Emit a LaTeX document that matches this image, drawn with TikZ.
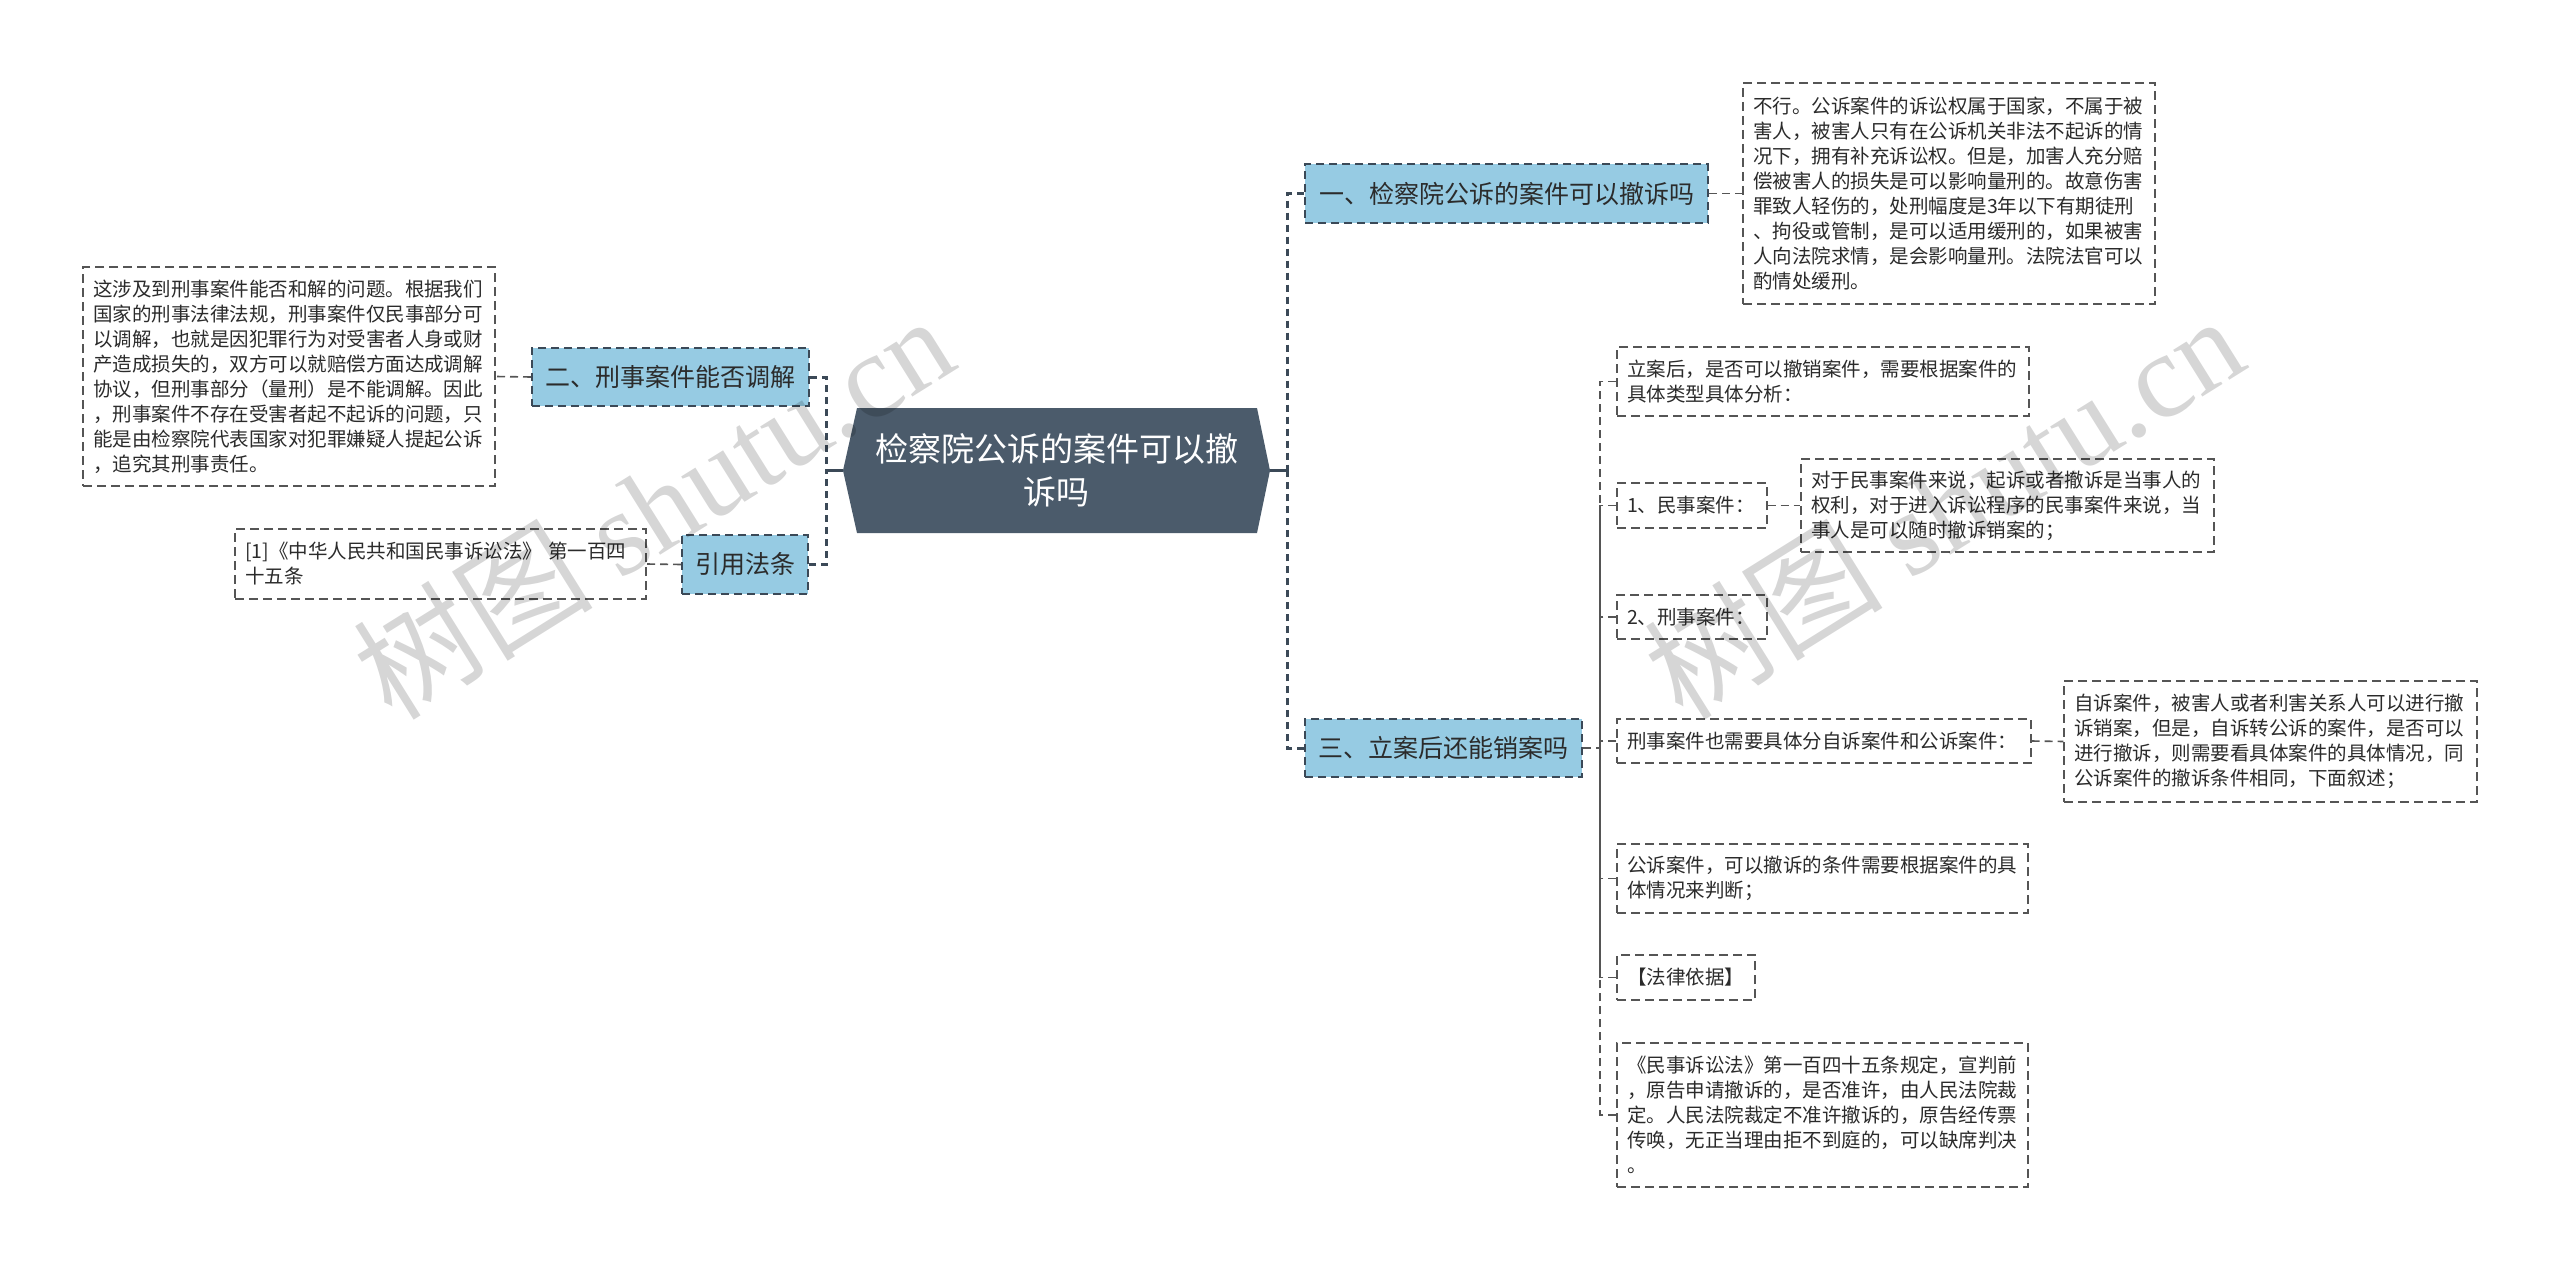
\documentclass[tikz,border=0pt]{standalone}
\usepackage{fontspec}
\setmainfont{Noto Sans CJK SC}
\newfontfamily\wmserif{Liberation Serif}
\definecolor{hubfill}{HTML}{4B5B6B}
\definecolor{topicfill}{HTML}{96CBE3}
\definecolor{topicline}{HTML}{3B4957}
\definecolor{leafline}{HTML}{555555}
\definecolor{txt}{HTML}{2B2B2B}
\begin{document}
\begin{tikzpicture}[x=1pt,y=-1pt,
  topic/.style={draw=topicline, line width=2pt, dash pattern=on 8pt off 5pt, fill=topicfill,
    font=\fontsize{25}{30}\selectfont, text=txt, inner sep=0pt, minimum height=58pt},
  leaf/.style={draw=leafline, line width=1.4pt, dash pattern=on 9pt off 5pt, fill=white,
    font=\fontsize{19.5}{25}\selectfont, text=txt, align=left, inner xsep=10pt, inner ysep=0pt},
  trunk/.style={draw=topicline, line width=3pt, dash pattern=on 7pt off 5pt},
  twig/.style={draw=leafline, line width=1.6pt, dash pattern=on 8pt off 5pt},
  wmark/.style={text=black, opacity=0.16, font=\fontsize{120}{120}\selectfont, rotate=32},
]
\useasboundingbox (0,0) rectangle (2560,1271);
\fill[white] (0,0) rectangle (2560,1271);

% central topic
\fill[hubfill] (843,470.5) -- (857,408) -- (1257,408) -- (1270,470.5) -- (1257,533) -- (857,533) -- cycle;
\node[minimum width=427pt, minimum height=125pt, inner sep=0pt, text=white, align=center,
  font=\fontsize{33}{43}\selectfont] (c) at (1056.5,470.5) {检察院公诉的案件可以撤\\诉吗};

% main topics
\node[topic, minimum width=403pt] (b1) at (1506.5,193.5) {一、检察院公诉的案件可以撤诉吗};
\node[topic, minimum width=277pt] (b2) at (670.5,377) {二、刑事案件能否调解};
\node[topic, minimum width=277pt] (b3) at (1443.5,748) {三、立案后还能销案吗};
\node[topic, minimum width=126pt, minimum height=59pt] (b4) at (745,564.5) {引用法条};

% leaves of main topics
\node[leaf, text width=392pt, minimum height=221pt] (l1) at (1949,193.5) {不行。公诉案件的诉讼权属于国家，不属于被\\害人，被害人只有在公诉机关非法不起诉的情\\况下，拥有补充诉讼权。但是，加害人充分赔\\偿被害人的损失是可以影响量刑的。故意伤害\\罪致人轻伤的，处刑幅度是3年以下有期徒刑\\、拘役或管制，是可以适用缓刑的，如果被害\\人向法院求情，是会影响量刑。法院法官可以\\酌情处缓刑。};
\node[leaf, text width=392pt, minimum height=219pt] (l2) at (289,376.5) {这涉及到刑事案件能否和解的问题。根据我们\\国家的刑事法律法规，刑事案件仅民事部分可\\以调解，也就是因犯罪行为对受害者人身或财\\产造成损失的，双方可以就赔偿方面达成调解\\协议，但刑事部分（量刑）是不能调解。因此\\，刑事案件不存在受害者起不起诉的问题，只\\能是由检察院代表国家对犯罪嫌疑人提起公诉\\，追究其刑事责任。};
\node[leaf, text width=391pt, minimum height=70pt] (l4) at (440.5,564) {[1]《中华人民共和国民事诉讼法》 第一百四\\十五条};

% details of topic 3
\node[leaf, text width=392pt, minimum height=69pt] (d1) at (1823,381.5) {立案后，是否可以撤销案件，需要根据案件的\\具体类型具体分析：};
\node[leaf, text width=130pt, minimum height=45pt] (d2) at (1692,505.5) {1、民事案件：};
\node[leaf, text width=393pt, minimum height=93pt] (e1) at (2007.5,505.5) {对于民事案件来说，起诉或者撤诉是当事人的\\权利，对于进入诉讼程序的民事案件来说，当\\事人是可以随时撤诉销案的；};
\node[leaf, text width=130pt, minimum height=44pt] (d3) at (1692,617) {2、刑事案件：};
\node[leaf, text width=394pt, minimum height=44pt] (d4) at (1824,741) {刑事案件也需要具体分自诉案件和公诉案件：};
\node[leaf, text width=393pt, minimum height=121pt] (e2) at (2270.5,741.5) {自诉案件，被害人或者利害关系人可以进行撤\\诉销案，但是，自诉转公诉的案件，是否可以\\进行撤诉，则需要看具体案件的具体情况，同\\公诉案件的撤诉条件相同，下面叙述；};
\node[leaf, text width=391pt, minimum height=69pt] (d5) at (1822.5,878.5) {公诉案件，可以撤诉的条件需要根据案件的具\\体情况来判断；};
\node[leaf, text width=118pt, minimum height=45pt] (d6) at (1686,977.5) {【法律依据】};
\node[leaf, text width=391pt, minimum height=144pt] (d7) at (1822.5,1115) {《民事诉讼法》第一百四十五条规定，宣判前\\，原告申请撤诉的，是否准许，由人民法院裁\\定。人民法院裁定不准许撤诉的，原告经传票\\传唤，无正当理由拒不到庭的，可以缺席判决\\。};

% connectors
\coordinate (tR) at (1287,470.5);
\coordinate (tL) at (826,470.5);
\coordinate (s3) at (1600,748);
\draw[topicline, line width=3pt] (c.east) -- (tR);
\draw[topicline, line width=3pt] (c.west) -- (tL);
\draw[trunk] (b1.west) -| (tR);
\draw[trunk] (b3.west) -| (tR);
\draw[trunk] (b2.east) -| (tL);
\draw[trunk] (b4.east) -| (tL);

\draw[twig] (b1.east) -- (l1.west);
\draw[twig] (b2.west) -- (l2.east);
\draw[twig] (b4.west) -- (l4.east);

\draw[twig] (b3.east) -- (s3);
\foreach \n in {d1,d2,d3,d4,d5,d6,d7} {\draw[twig] (\n.west) -| (s3);}
\draw[twig] (d2.east) -- (e1.west);
\draw[twig] (d4.east) -- (e2.west);

% watermark
\node[wmark] (wm1) at (653,506) {树图 {\wmserif shutu.cn}};
\node[wmark] (wm2) at (1943,506) {树图 {\wmserif shutu.cn}};
\end{tikzpicture}
\end{document}
